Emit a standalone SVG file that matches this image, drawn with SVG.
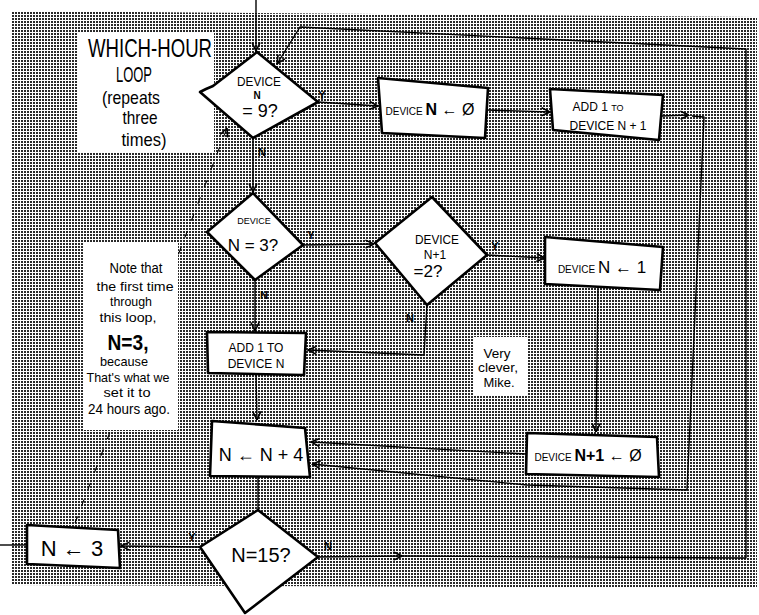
<svg xmlns="http://www.w3.org/2000/svg" width="759" height="615" viewBox="0 0 759 615">
<defs>
<pattern id="dots" width="3" height="3" patternUnits="userSpaceOnUse"><rect x="0" y="0" width="2" height="2" fill="#2a2a2a"/></pattern>
<marker id="arr" viewBox="0 0 10 10" refX="9.5" refY="5" markerWidth="10" markerHeight="10" orient="auto" markerUnits="userSpaceOnUse"><path d="M1,1 L9.5,5 L1,9" fill="none" stroke="#000" stroke-width="1.6"/></marker>
</defs>
<style>
.node{fill:#fff;stroke:#000;stroke-width:2.6;stroke-linejoin:round}
.con{fill:none;stroke:#000;stroke-width:1.4;stroke-linejoin:round}
.dash{fill:none;stroke:#000;stroke-width:1.1;stroke-dasharray:7 11}
.t{font-family:"Liberation Sans",Arial,sans-serif;fill:#000;text-anchor:middle}
.hw{font-family:"Liberation Sans",Arial,sans-serif;fill:#000;text-anchor:middle}
.lbl{font-family:"Liberation Sans",Arial,sans-serif;font-size:11px;font-weight:bold;fill:#000;text-anchor:middle}
.note{fill:#fff;stroke:none}
</style>
<rect width="759" height="615" fill="#fff"/>
<polygon points="12,11 757,17 757,588 12,585" fill="url(#dots)"/>

<g id="connectors">
<path class="con" d="M256,0 L256,51" marker-end="url(#arr)"/>
<path class="con" d="M318,102 L378,106" marker-end="url(#arr)"/>
<path class="con" d="M487,110 L550,112" marker-end="url(#arr)"/>
<path class="con" d="M662,116 L689,115" marker-end="url(#arr)"/>
<path class="con" d="M692,116 L704,117 L687,490 L527,485 L312,464" marker-end="url(#arr)"/>
<path class="con" d="M253,139 L253,192" marker-end="url(#arr)"/>
<path class="con" d="M303,245 L374,244" marker-end="url(#arr)"/>
<path class="con" d="M487,255 L545,258" marker-end="url(#arr)"/>
<path class="con" d="M598,289 L596,432" marker-end="url(#arr)"/>
<path class="con" d="M526,454 L311,442" marker-end="url(#arr)"/>
<path class="con" d="M427,305 L424,355 L308,350" marker-end="url(#arr)"/>
<path class="con" d="M255,280 L255,331" marker-end="url(#arr)"/>
<path class="con" d="M256,374 L257,420" marker-end="url(#arr)"/>
<path class="con" d="M258,477 L258,510"/>
<path class="con" d="M200,547 L121,546" marker-end="url(#arr)"/>
<path class="con" d="M27,545 L0,545"/>
<path class="con" d="M318,557 L402,556" marker-end="url(#arr)"/>
<path class="con" d="M402,556 L746,558 L746,49 L300,27 L277,64" marker-end="url(#arr)"/>
<path class="dash" d="M75,523 L227,128" marker-end="url(#arr)"/>
</g>

<g id="annotations">
<rect class="note" x="78" y="32" width="136" height="121"/>
<text class="hw" font-size="26" x="150" y="57" textLength="124" lengthAdjust="spacingAndGlyphs">WHICH-HOUR</text>
<text class="hw" font-size="22" x="134" y="82" textLength="36" lengthAdjust="spacingAndGlyphs">LOOP</text>
<text class="hw" font-size="19" x="131" y="104" textLength="58" lengthAdjust="spacingAndGlyphs">(repeats</text>
<text class="hw" font-size="19" x="140" y="124" textLength="35" lengthAdjust="spacingAndGlyphs">three</text>
<text class="hw" font-size="19" x="144" y="146" textLength="45" lengthAdjust="spacingAndGlyphs">times)</text>

<rect class="note" x="84" y="243" width="94" height="187"/>
<text class="hw" font-size="14" x="136" y="273" textLength="53" lengthAdjust="spacingAndGlyphs">Note that</text>
<text class="hw" font-size="13" x="135" y="291" textLength="77" lengthAdjust="spacingAndGlyphs">the first time</text>
<text class="hw" font-size="13" x="131" y="306" textLength="42" lengthAdjust="spacingAndGlyphs">through</text>
<text class="hw" font-size="13" x="128" y="322" textLength="57" lengthAdjust="spacingAndGlyphs">this loop,</text>
<text class="hw" font-size="22" font-weight="bold" x="128" y="350" textLength="41" lengthAdjust="spacingAndGlyphs">N=3,</text>
<text class="hw" font-size="13" x="124" y="366" textLength="48" lengthAdjust="spacingAndGlyphs">because</text>
<text class="hw" font-size="13" x="128" y="382" textLength="83" lengthAdjust="spacingAndGlyphs">That's what we</text>
<text class="hw" font-size="13" x="127" y="397" textLength="47" lengthAdjust="spacingAndGlyphs">set it to</text>
<text class="hw" font-size="14" x="129" y="414" textLength="82" lengthAdjust="spacingAndGlyphs">24 hours ago.</text>

<rect class="note" x="474" y="337" width="54" height="58"/>
<text class="hw" font-size="13" x="497" y="358" textLength="27" lengthAdjust="spacingAndGlyphs">Very</text>
<text class="hw" font-size="13" x="498" y="372" textLength="40" lengthAdjust="spacingAndGlyphs">clever,</text>
<text class="hw" font-size="13" x="499" y="387" textLength="31" lengthAdjust="spacingAndGlyphs">Mike.</text>
</g>

<g id="labels">
<text class="lbl" x="322" y="99">Y</text>
<text class="lbl" x="262" y="156">N</text>
<text class="lbl" x="311" y="239">Y</text>
<text class="lbl" x="264" y="299">N</text>
<text class="lbl" x="495" y="250">Y</text>
<text class="lbl" x="410" y="322">N</text>
<text class="lbl" x="192" y="541">Y</text>
<text class="lbl" x="328" y="550">N</text>
</g>

<g id="d1">
<polygon class="node" points="257,52 318,102 253,138 200,92 206,89 213,86"/>
<text class="t" font-size="12" x="259" y="86" textLength="44" lengthAdjust="spacingAndGlyphs">DEVICE</text>
<text class="t" font-size="10" font-weight="bold" x="257" y="99">N</text>
<text class="t" font-size="18" x="260" y="117">= 9?</text>
</g>

<g id="box1">
<polygon class="node" points="378,78 488,88 485,138 382,133"/>
<text class="t" x="430" y="115"><tspan font-size="10">DEVICE </tspan><tspan font-size="16" font-weight="bold">N</tspan><tspan font-size="16"> ← Ø</tspan></text>
</g>

<g id="box2">
<polygon class="node" points="550,89 663,95 659,140 553,130"/>
<text class="t" font-size="12" x="598" y="111"><tspan>ADD  1  </tspan><tspan font-size="9">TO</tspan></text>
<text class="t" font-size="12" x="608" y="130">DEVICE  N + 1</text>
</g>

<g id="d2">
<polygon class="node" points="253,193 303,245 255,280 207,232"/>
<text class="t" font-size="9" x="254" y="224">DEVICE</text>
<text class="t" font-size="17" x="253" y="251">N = 3?</text>
</g>

<g id="d3">
<polygon class="node" points="432,197 487,255 427,305 375,243"/>
<text class="t" font-size="12" x="437" y="244" textLength="44" lengthAdjust="spacingAndGlyphs">DEVICE</text>
<text class="t" font-size="12" x="435" y="259">N+1</text>
<text class="t" font-size="17" x="428" y="277">=2?</text>
</g>

<g id="box3">
<polygon class="node" points="545,237 663,247 660,290 545,284"/>
<text class="t" x="602" y="273"><tspan font-size="10">DEVICE </tspan><tspan font-size="17">N ← 1</tspan></text>
</g>

<g id="box4">
<polygon class="node" points="207,332 306,333 304,375 208,373"/>
<text class="t" font-size="12" x="256" y="352">ADD  1  TO</text>
<text class="t" font-size="12" x="256" y="368">DEVICE  N</text>
</g>

<g id="box5">
<polygon class="node" points="212,421 305,428 310,477 210,476"/>
<text class="t" font-size="18" x="261" y="461">N ← N + 4</text>
</g>

<g id="box6">
<polygon class="node" points="527,433 657,437 659,477 526,474"/>
<text class="t" x="588" y="461"><tspan font-size="10">DEVICE </tspan><tspan font-size="16" font-weight="bold">N+1</tspan><tspan font-size="16"> ← Ø</tspan></text>
</g>

<g id="d4">
<polygon class="node" points="258,510 318,557 245,613 200,547"/>
<text class="t" font-size="20" x="261" y="562">N=15?</text>
</g>

<g id="box7">
<polygon class="node" points="27,525 118,530 120,568 27,564"/>
<text class="t" font-size="22" x="72" y="556">N ← 3</text>
</g>
</svg>
